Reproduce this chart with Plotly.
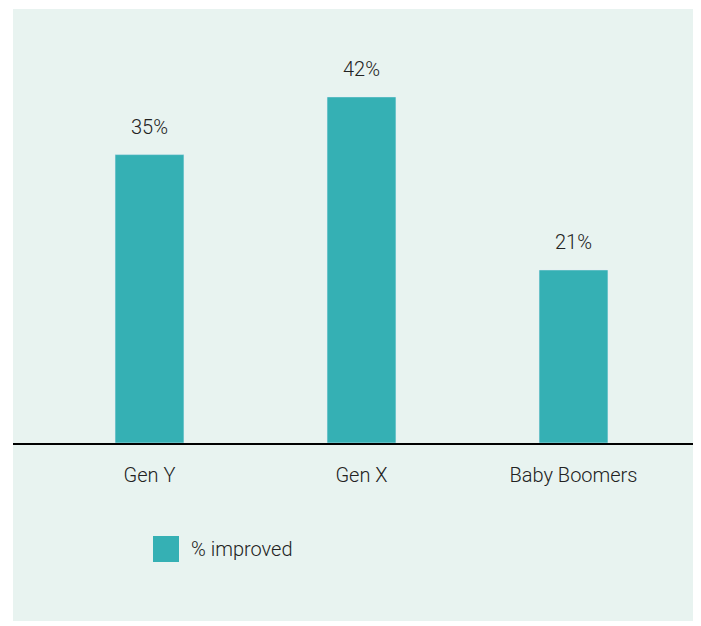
import plotly.graph_objects as go

categories = ["Gen Y", "Gen X", "Baby Boomers"]
values = [35, 42, 21]
value_labels = ["35%", "42%", "21%"]
series_name = "% improved"

BAR = "#35b0b4"
PANEL = "#e8f3f0"
TEXT = "#222222"
FONT = dict(family="Roboto", size=20, color=TEXT, weight=300)

OFF = 8  # page body margin
W, H = 701 - OFF, 626 - OFF
L, R, T, B = 13 - OFF, 701 - 695, 31 - OFF, 626 - 443
plot_w = W - L - R
plot_h = H - T - B
YMAX = 50

def fx(px):
    return (px - OFF - L) / plot_w

def fy(py):
    return (H - B - (py - OFF)) / plot_h

fig = go.Figure()
fig.add_trace(go.Bar(x=categories, y=values, marker_color=BAR, name=series_name, showlegend=False))

for c, v, t in zip(categories, values, value_labels):
    fig.add_annotation(x=c, y=v, text=t, showarrow=False, yanchor="bottom", yshift=14, font=FONT)

fig.add_shape(type="rect", xref="paper", yref="paper", x0=fx(13), x1=fx(695), y0=fy(621), y1=fy(9),
              fillcolor=PANEL, line_width=0, layer="below")
# legend
fig.add_shape(type="rect", xref="paper", yref="paper", x0=fx(153), x1=fx(179), y0=fy(562), y1=fy(536),
              fillcolor=BAR, line_width=0)
fig.add_annotation(xref="paper", yref="paper", x=fx(189), y=fy(549), text=series_name, showarrow=False,
                   xanchor="left", yanchor="middle", font=FONT)

fig.update_layout(
    width=W, height=H,
    margin=dict(l=L, r=R, t=T, b=B),
    paper_bgcolor="white", plot_bgcolor="rgba(0,0,0,0)",
    bargap=0.675,
    font=FONT,
    showlegend=False,
)
fig.update_xaxes(range=[-(149.5 - 13) / 212, 2 + (695 - 573.5) / 212], showline=True, linecolor="#000000",
                 linewidth=2, showgrid=False, zeroline=False, ticks="outside", ticklen=0,
                 ticklabelstandoff=13, tickfont=FONT)
fig.update_yaxes(range=[0, YMAX], visible=False)

fig.write_html("out.html")
